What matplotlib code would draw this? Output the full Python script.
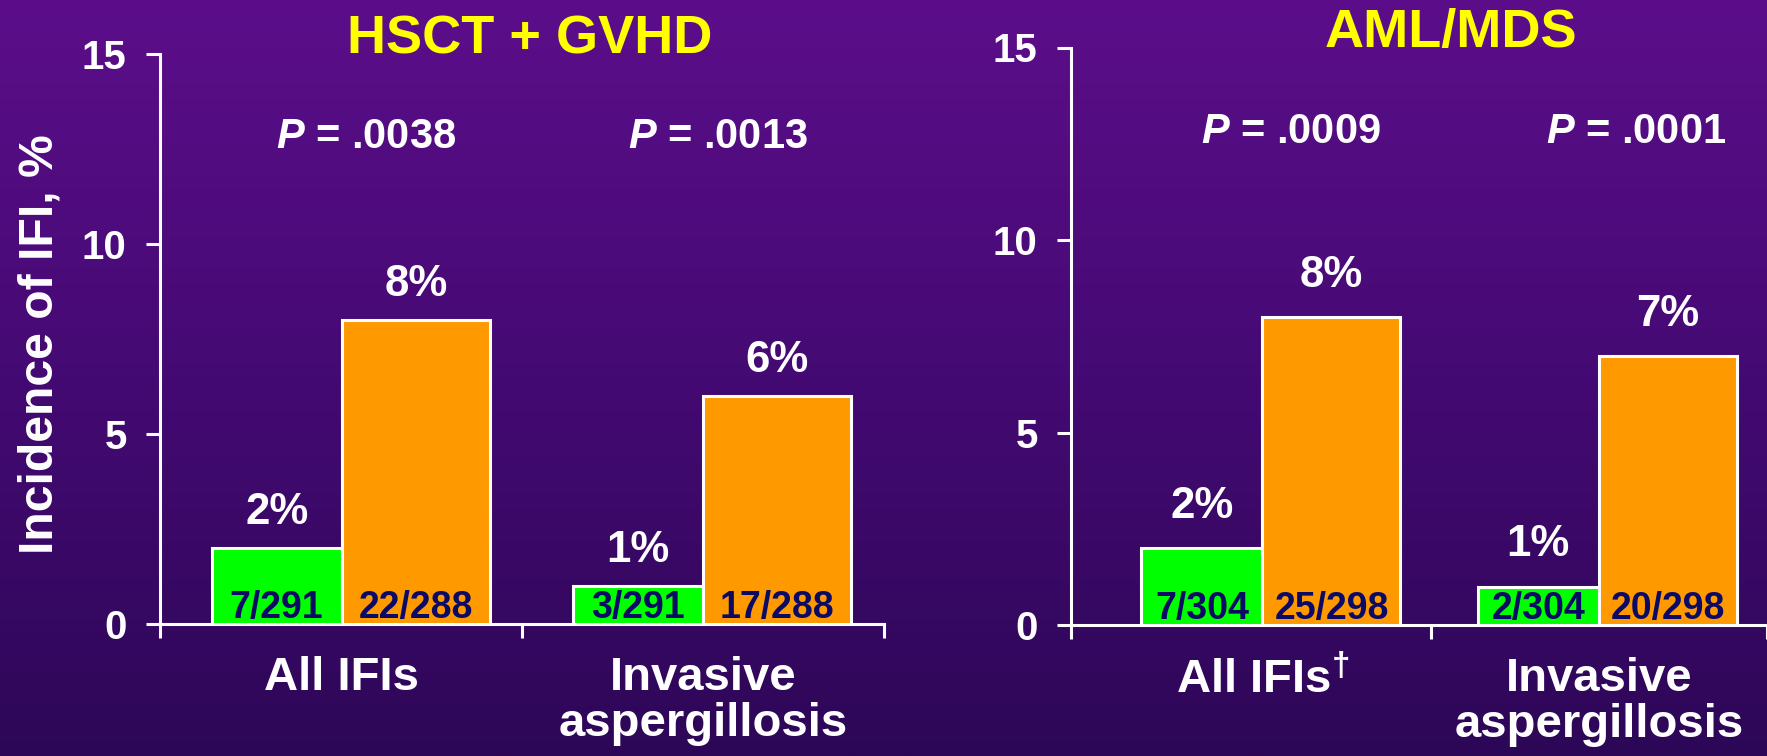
import numpy as np
import matplotlib
matplotlib.use('Agg')
import matplotlib.pyplot as plt
from matplotlib.colors import LinearSegmentedColormap

# --- data ---
left_title = 'HSCT + GVHD'
right_title = 'AML/MDS'
y_label = 'Incidence of IFI, %'

left_cats = ['All IFIs', 'Invasive\naspergillosis']
right_cats = ['All IFIs$^{\\dagger}$', 'Invasive\naspergillosis']

left_green = [2, 1]
left_orange = [8, 6]
left_green_n = ['7/291', '3/291']
left_orange_n = ['22/288', '17/288']
left_p = ['.0038', '.0013']

right_green = [2, 1]
right_orange = [8, 7]
right_green_n = ['7/304', '2/304']
right_orange_n = ['25/298', '20/298']
right_p = ['.0009', '.0001']

y_ticks = [0, 5, 10, 15]

# --- style ---
plt.rcParams['font.family'] = ['Liberation Sans', 'DejaVu Sans']
plt.rcParams['font.weight'] = 'bold'
plt.rcParams['mathtext.fontset'] = 'custom'
plt.rcParams['mathtext.it'] = 'Liberation Sans:italic:bold'
plt.rcParams['mathtext.rm'] = 'Liberation Sans:bold'
plt.rcParams['mathtext.bf'] = 'Liberation Sans:bold'

GREEN = '#00ff00'
ORANGE = '#ff9900'
NAVY = '#0b0b66'
YELLOW = '#ffff00'
GREEN_W = 0.36
ORANGE_W = 0.41
LW = 2.2

W, H = 1767, 756
fig = plt.figure(figsize=(W / 100, H / 100), dpi=100)

# purple gradient background
bg = fig.add_axes([0, 0, 1, 1], zorder=-10)
cmap = LinearSegmentedColormap.from_list('bg', ['#5c0e8a', '#440a73', '#2d0757'])
bg.imshow(np.linspace(0, 1, 256).reshape(-1, 1), aspect='auto', cmap=cmap, extent=[0, 1, 0, 1])
bg.axis('off')


def make_axes(x0, x1, y_bot, unit_y, c0, unit_x):
    top = y_bot - 15 * unit_y
    ax = fig.add_axes([x0 / W, 1 - y_bot / H, (x1 - x0) / W, (y_bot - top) / H])
    ax.set_xlim((x0 - c0) / unit_x, (x1 - c0) / unit_x)
    return ax


def draw_panel(ax, cats, g_vals, o_vals, g_n, o_n, p_vals, p_x, lbl_off):
    x = np.arange(len(cats))
    ax.set_facecolor('none')
    ax.bar(x, g_vals, width=-GREEN_W, align='edge', color=GREEN,
           edgecolor='white', linewidth=LW, zorder=3)
    ax.bar(x, o_vals, width=ORANGE_W, align='edge', color=ORANGE,
           edgecolor='white', linewidth=LW, zorder=3)

    for xi, g, o, gn, on in zip(x, g_vals, o_vals, g_n, o_n):
        gx = xi - GREEN_W / 2
        ox = xi + ORANGE_W / 2
        ax.annotate(f'{g}%', (gx, g), xytext=(0, lbl_off), textcoords='offset points',
                    ha='center', va='baseline', color='white', fontsize=31.5)
        ax.annotate(f'{o}%', (ox, o), xytext=(0, lbl_off), textcoords='offset points',
                    ha='center', va='baseline', color='white', fontsize=31.5)
        ax.annotate(gn, (gx, 0), xytext=(0, 4.3), textcoords='offset points',
                    ha='center', va='baseline', color=NAVY, fontsize=27, zorder=5)
        ax.annotate(on, (ox, 0), xytext=(0, 4.3), textcoords='offset points',
                    ha='center', va='baseline', color=NAVY, fontsize=27, zorder=5)

    for px, p in zip(p_x, p_vals):
        ax.text(px, 12.53, f'$P$ = {p}', ha='center', va='baseline',
                color='white', fontsize=30)

    ax.set_ylim(0, 15)
    ax.set_yticks(y_ticks)
    ax.tick_params(axis='y', colors='white', length=10, width=LW, pad=14, labelsize=29)

    ax.set_xticks(x, cats)
    ax.tick_params(axis='x', which='major', length=0, pad=23, labelsize=34, colors='white')
    lo = ax.get_xlim()[0]
    ax.set_xticks([lo] + [i + 0.5 for i in range(len(cats))], minor=True)
    ax.tick_params(axis='x', which='minor', length=10, width=LW, color='white')
    for lbl in ax.get_xticklabels():
        lbl.set_linespacing(1.05)

    for side in ['top', 'right']:
        ax.spines[side].set_visible(False)
    for side in ['left', 'bottom']:
        ax.spines[side].set_color('white')
        ax.spines[side].set_linewidth(LW)


ax1 = make_axes(160, 884, 624, 38.0, 342, 362)
draw_panel(ax1, left_cats, left_green, left_orange, left_green_n, left_orange_n,
           left_p, [0.066, 1.04], 17.3)

ax2 = make_axes(1071, 1767, 625, 38.5, 1268, 346)
draw_panel(ax2, right_cats, right_green, right_orange, right_green_n, right_orange_n,
           right_p, [0.084, 1.11], 21.6)

fig.text(530 / W, 1 - 54 / H, left_title, ha='center', va='baseline',
         color=YELLOW, fontsize=39)
fig.text(1451 / W, 1 - 47 / H, right_title, ha='center', va='baseline',
         color=YELLOW, fontsize=39)
fig.text(40 / W, 1 - 344 / H, y_label, rotation=90, ha='center', va='center',
         color='white', fontsize=34.7)

fig.savefig('out.png', dpi=100)
